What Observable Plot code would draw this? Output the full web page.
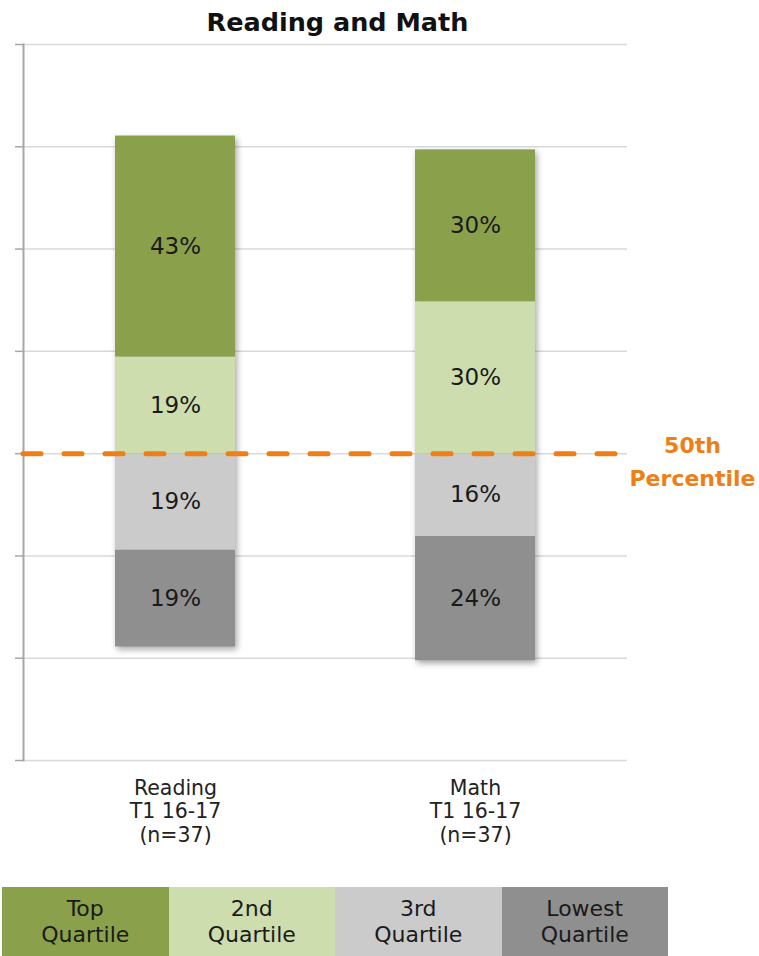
<!DOCTYPE html>
<html>
<head>
<meta charset="utf-8">
<script src="https://cdn.jsdelivr.net/npm/d3@7"></script>
<script src="https://cdn.jsdelivr.net/npm/@observablehq/plot@0.6"></script>
<style>
  html, body { margin: 0; padding: 0; background: #fff; }
  body { width: 759px; height: 956px; overflow: hidden; font-family: "DejaVu Sans", sans-serif; }
  #title { width: 675px; height: 40px; line-height: 44px; text-align: center; font-weight: bold; font-size: 25.5px; color: #111; }
  #chart svg { display: block; overflow: visible; }
  #chart g[aria-label="bar"] { filter: drop-shadow(2px 3px 3px rgba(0,0,0,0.35)); }
  #legend { display: flex; margin-top: 7px; margin-left: 2px; }
  #legend div { width: 166.5px; height: 69px; display: flex; align-items: center; justify-content: center; text-align: center; font-size: 22px; line-height: 26px; color: #1a1a1a; white-space: pre; }
</style>
</head>
<body>
<div id="title">Reading and Math</div>
<div id="chart"></div>
<div id="legend"></div>
<script>
const categories = ["Reading", "Math"];
const categoryLabels = ["Reading\nT1 16-17\n(n=37)", "Math\nT1 16-17\n(n=37)"];
const quartiles = ["Top Quartile", "2nd Quartile", "3rd Quartile", "Lowest Quartile"];
const quartileLegendLabels = ["Top\nQuartile", "2nd\nQuartile", "3rd\nQuartile", "Lowest\nQuartile"];
const quartileColors = ["#8AA04A", "#CEDDAD", "#CBCBCB", "#8F8F8F"];
const topValues = [43.2, 29.7];
const secondValues = [18.9, 29.7];
const thirdValues = [18.9, 16.2];
const lowestValues = [18.9, 24.3];
const gridTicks = [-60, -40, -20, 0, 20, 40, 60, 80];
const referenceLabel = "50th\nPercentile";

// rows: above-median quartiles positive, below-median negative (stacked outward from 0)
const rows = [];
categories.forEach((c, i) => {
  rows.push({category: c, quartile: "2nd Quartile", value: secondValues[i]});
  rows.push({category: c, quartile: "3rd Quartile", value: -thirdValues[i]});
  rows.push({category: c, quartile: "Top Quartile", value: topValues[i]});
  rows.push({category: c, quartile: "Lowest Quartile", value: -lowestValues[i]});
});

const labelOf = new Map(categories.map((c, i) => [c, categoryLabels[i]]));

const chart = Plot.plot({
  width: 759,
  height: 840,
  marginTop: 4,
  marginBottom: 120,
  marginLeft: 23,
  marginRight: 132,
  style: {fontFamily: "DejaVu Sans, sans-serif", background: "transparent"},
  x: {domain: categories, paddingInner: 0.6, paddingOuter: 0.3035, label: null},
  y: {domain: [-60, 80], label: null},
  color: {domain: quartiles, range: quartileColors},
  marks: [
    Plot.ruleY(gridTicks, {stroke: "#D9D9D9", strokeWidth: 1.5}),
    Plot.axisY({ticks: gridTicks, tickFormat: () => "", tickSize: 8, stroke: "#A6A6A6", strokeWidth: 1.5, label: null}),
    Plot.frame({anchor: "left", stroke: "#A6A6A6", strokeWidth: 2}),
    Plot.axisX({tickSize: 0, tickPadding: 18, fontSize: 20.5, lineHeight: 1.14, tickFormat: d => labelOf.get(d), fill: "#222", label: null}),
    Plot.barY(rows, Plot.stackY({x: "category", y: "value", fill: "quartile"})),
    Plot.text(rows, Plot.stackY({x: "category", y: "value", text: d => Math.round(Math.abs(d.value)) + "%", fill: "#1a1a1a", fontSize: 23})),
    Plot.ruleY([0], {stroke: "#EE7F17", strokeWidth: 5, strokeDasharray: "18,23", strokeLinecap: "round"}),
    Plot.text([0], {y: d => d, frameAnchor: "right", dx: 65, dy: 5, text: () => referenceLabel, fill: "#EE7F17", fontWeight: "bold", fontSize: 22, lineHeight: 1.5, textAnchor: "middle"})
  ]
});
document.getElementById("chart").appendChild(chart);

const legend = document.getElementById("legend");
quartiles.forEach((q, i) => {
  const d = document.createElement("div");
  d.style.background = quartileColors[i];
  d.textContent = quartileLegendLabels[i];
  legend.appendChild(d);
});
</script>
</body>
</html>
